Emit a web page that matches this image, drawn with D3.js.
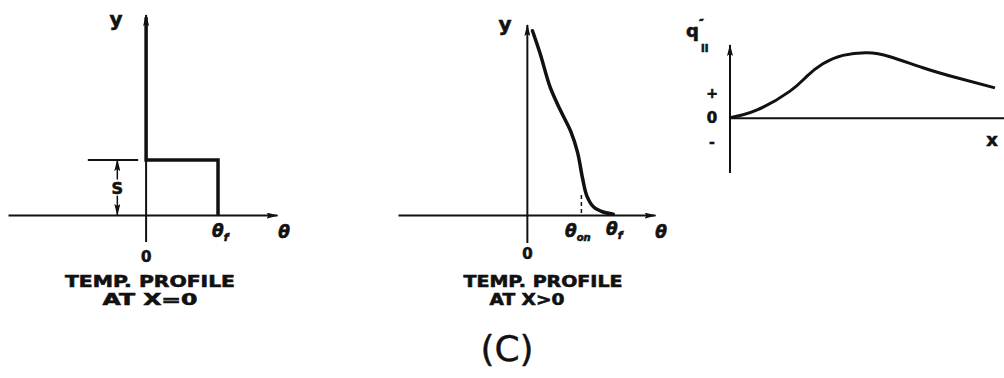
<!DOCTYPE html>
<html>
<head>
<meta charset="utf-8">
<script src="https://cdn.jsdelivr.net/npm/d3@7"></script>
<style>
  body { margin: 0; background: #fff; }
  svg text { font-family: "DejaVu Sans", sans-serif; fill: #111; font-weight: bold;
             stroke: #111; stroke-width: 0.6px; }
  svg text.cap { stroke-width: 0.4px; }
</style>
</head>
<body>
<div id="chart-area"></div>
<script>
// ---- data ----
// panel 1 : step profile at x = 0 (theta in units of theta_f, y in units of S)
var stepTheta = [0, 0, 1, 1];
var stepY     = [3.6, 1, 1, 0];

// panel 2 : profile at x > 0 (theta in units of theta_f, y normalised)
var profTheta = [0.06, 0.15, 0.27, 0.39, 0.51, 0.59, 0.65, 0.70, 0.78, 0.89, 1.01];
var profY     = [0.97, 0.85, 0.67, 0.55, 0.44, 0.33, 0.19, 0.10, 0.042, 0.016, 0.005];
var thetaOn = 0.635;

// panel 3 : q''_II along x (peak = 1)
var qX = [0, 0.99, 2.19, 2.81, 3.39, 4.12, 5.0, 5.84, 7.04, 8.28, 9.67];
var qV = [0, 0.12, 0.41, 0.64, 0.83, 0.96, 1.0, 0.94, 0.77, 0.615, 0.46];
var qSigns = ["+", "0", "-"];
var qSignVals = [0.38, 0, -0.38];

var W = 1004, H = 378;

var svg = d3.select("#chart-area")
  .append("svg")
  .attr("width", W)
  .attr("height", H);

var ink = "#111";

// arrow head marker
svg.append("defs").append("marker")
  .attr("id", "arr")
  .attr("viewBox", "0 0 12 6")
  .attr("refX", 11).attr("refY", 3)
  .attr("markerWidth", 12).attr("markerHeight", 6)
  .attr("markerUnits", "userSpaceOnUse")
  .attr("orient", "auto")
  .append("path")
    .attr("d", "M0,0 L12,3 L0,6 L2,3 Z")
    .attr("fill", ink);

function styleAxis(sel, arrow) {
  sel.select(".domain").attr("stroke", ink).attr("stroke-width", 2);
  if (arrow) sel.select(".domain").attr("marker-end", "url(#arr)");
}

/* =============== Panel 1 =============== */
var x1 = d3.scaleLinear().domain([-1.92, 1.82]).range([8, 277]);
var y1 = d3.scaleLinear().domain([-0.49, 3.64]).range([242, 15]);
var g1 = svg.append("g");

g1.append("g")
  .attr("transform", "translate(0," + y1(0) + ")")
  .call(d3.axisBottom(x1).tickValues([]).tickSizeOuter(0))
  .call(styleAxis, true);
// y axis drawn bottom -> top so arrow points up
g1.append("path")
  .attr("d", d3.line()([[x1(0), y1(-0.49)], [x1(0), y1(3.64)]]))
  .attr("stroke", ink).attr("stroke-width", 2).attr("fill", "none")
  .attr("marker-end", "url(#arr)");

g1.append("path")
  .datum(d3.range(stepTheta.length))
  .attr("d", d3.line()
    .x(function(i){ return x1(stepTheta[i]); })
    .y(function(i){ return y1(stepY[i]); }))
  .attr("fill", "none").attr("stroke", ink).attr("stroke-width", 3.5);

// S dimension
g1.append("line")
  .attr("x1", x1(-0.81)).attr("x2", x1(-0.11))
  .attr("y1", y1(1)).attr("y2", y1(1))
  .attr("stroke", ink).attr("stroke-width", 2);
var sx = x1(-0.4);
g1.append("path")
  .attr("d", d3.line()([[sx, y1(0.5) - 8], [sx, y1(1)]]))
  .attr("stroke", ink).attr("stroke-width", 1.5).attr("marker-end", "url(#arr)");
g1.append("path")
  .attr("d", d3.line()([[sx, y1(0.5) + 8], [sx, y1(0)]]))
  .attr("stroke", ink).attr("stroke-width", 1.5).attr("marker-end", "url(#arr)");
g1.append("text").attr("x", sx).attr("y", y1(0.5) + 6)
  .attr("text-anchor", "middle").attr("font-size", 16).text("S");

g1.append("text").attr("x", 116).attr("y", 26).attr("text-anchor", "middle")
  .attr("font-size", 20).text("y");
g1.append("text").attr("x", x1(0)).attr("y", 262).attr("text-anchor", "middle")
  .attr("font-size", 15).text("0");
var tf1 = g1.append("text").attr("x", x1(1) - 6).attr("y", 237)
  .attr("font-size", 17).attr("font-style", "italic");
tf1.append("tspan").text("θ");
tf1.append("tspan").attr("font-size", 11).attr("dy", 4).text("f");
g1.append("text").attr("x", 284).attr("y", 238).attr("text-anchor", "middle")
  .attr("font-size", 17).attr("font-style", "italic").text("θ");
g1.append("text").attr("x", 150).attr("y", 287).attr("text-anchor", "middle")
  .attr("font-size", 16).attr("textLength", 170).attr("lengthAdjust", "spacingAndGlyphs")
  .text("TEMP. PROFILE");
g1.append("text").attr("x", 150).attr("y", 305).attr("text-anchor", "middle")
  .attr("font-size", 16).attr("textLength", 95).attr("lengthAdjust", "spacingAndGlyphs")
  .text("AT X=0");

/* =============== Panel 2 =============== */
var x2 = d3.scaleLinear().domain([-1.52, 1.50]).range([398, 655]);
var y2 = d3.scaleLinear().domain([-0.147, 1]).range([243, 25]);
var g2 = svg.append("g");

g2.append("g")
  .attr("transform", "translate(0," + y2(0) + ")")
  .call(d3.axisBottom(x2).tickValues([]).tickSizeOuter(0))
  .call(styleAxis, true);
g2.append("path")
  .attr("d", d3.line()([[x2(0), y2(-0.147)], [x2(0), y2(1)]]))
  .attr("stroke", ink).attr("stroke-width", 2).attr("fill", "none")
  .attr("marker-end", "url(#arr)");

g2.append("path")
  .datum(d3.range(profTheta.length))
  .attr("d", d3.line()
    .x(function(i){ return x2(profTheta[i]); })
    .y(function(i){ return y2(profY[i]); })
    .curve(d3.curveCatmullRom.alpha(0.5)))
  .attr("fill", "none").attr("stroke", ink).attr("stroke-width", 3.5)
  .attr("stroke-linecap", "round");

g2.append("line")
  .attr("x1", x2(thetaOn)).attr("x2", x2(thetaOn))
  .attr("y1", y2(0.105)).attr("y2", y2(0))
  .attr("stroke", ink).attr("stroke-width", 1.5).attr("stroke-dasharray", "4,3");

g2.append("text").attr("x", 505).attr("y", 31).attr("text-anchor", "middle")
  .attr("font-size", 20).text("y");
g2.append("text").attr("x", x2(0)).attr("y", 259).attr("text-anchor", "middle")
  .attr("font-size", 15).text("0");
var ton = g2.append("text").attr("x", 565).attr("y", 237)
  .attr("font-size", 17).attr("font-style", "italic");
ton.append("tspan").text("θ");
ton.append("tspan").attr("font-size", 10).attr("dy", 4).text("on");
var tf2 = g2.append("text").attr("x", 606).attr("y", 235)
  .attr("font-size", 17).attr("font-style", "italic");
tf2.append("tspan").text("θ");
tf2.append("tspan").attr("font-size", 11).attr("dy", 4).text("f");
g2.append("text").attr("x", 661).attr("y", 238).attr("text-anchor", "middle")
  .attr("font-size", 17).attr("font-style", "italic").text("θ");
g2.append("text").attr("x", 543).attr("y", 287).attr("text-anchor", "middle")
  .attr("font-size", 16).attr("textLength", 159).attr("lengthAdjust", "spacingAndGlyphs")
  .text("TEMP. PROFILE");
g2.append("text").attr("x", 527).attr("y", 305).attr("text-anchor", "middle")
  .attr("font-size", 16).attr("textLength", 75).attr("lengthAdjust", "spacingAndGlyphs")
  .text("AT X>0");

/* =============== Panel 3 =============== */
var x3 = d3.scaleLinear().domain([0, 10]).range([730, 1004]);
var y3 = d3.scaleLinear().domain([-0.85, 1.12]).range([173, 45]);
var g3 = svg.append("g");

g3.append("g")
  .attr("transform", "translate(0," + y3(0) + ")")
  .call(d3.axisBottom(x3).tickValues([]).tickSizeOuter(0))
  .call(styleAxis, false);
g3.append("path")
  .attr("d", d3.line()([[x3(0), y3(-0.85)], [x3(0), y3(1.12)]]))
  .attr("stroke", ink).attr("stroke-width", 2).attr("fill", "none")
  .attr("marker-end", "url(#arr)");

g3.append("path")
  .datum(d3.range(qX.length))
  .attr("d", d3.line()
    .x(function(i){ return x3(qX[i]); })
    .y(function(i){ return y3(qV[i]); })
    .curve(d3.curveNatural))
  .attr("fill", "none").attr("stroke", ink).attr("stroke-width", 3);

g3.selectAll(".sign")
  .data(qSigns)
  .enter().append("text")
    .attr("class", "sign")
    .attr("x", 712)
    .attr("y", function(d, i){ return y3(qSignVals[i]) + 5; })
    .attr("text-anchor", "middle")
    .attr("font-size", function(d){ return d === "0" ? 15 : 14; })
    .text(function(d){ return d; });

// q''_II label
g3.append("text").attr("x", 686).attr("y", 37).attr("font-size", 18).text("q");
g3.append("text").attr("x", 699).attr("y", 27).attr("font-size", 11).text("\u2033");
g3.append("text").attr("x", 701).attr("y", 52).attr("font-size", 10).text("II");

g3.append("text").attr("x", 992).attr("y", 146).attr("text-anchor", "middle")
  .attr("font-size", 18).text("x");

/* caption */
svg.append("text").attr("class", "cap").attr("x", 507).attr("y", 361)
  .attr("text-anchor", "middle").attr("font-size", 36).style("font-weight", "normal")
  .text("(C)");
</script>
</body>
</html>
